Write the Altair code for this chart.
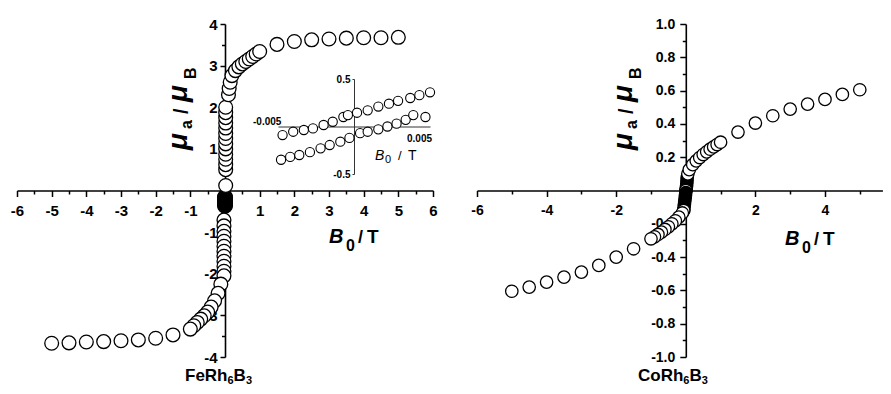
import altair as alt
import pandas as pd

FONT = "Liberation Sans"
W, H = 875, 378

# ---------------- FeRh6B3 (left panel) ----------------
fe_x = [0.02, 0.02, 0.02, 0.02, 0.02, 0.02, 0.02, 0.02, 0.02, 0.02, 0.02, 0.02, 0.02, 0.02,
        0.1, 0.12, 0.15, 0.2, 0.3, 0.4, 0.5, 0.6, 0.7, 0.8, 0.9, 1.0,
        1.5, 2.0, 2.5, 3.0, 3.5, 4.0, 4.5, 5.0,
        -0.03, -0.03, -0.03, -0.03, -0.03, -0.03, -0.03, -0.03, -0.03, -0.03, -0.03, -0.03,
        -0.12, -0.2, -0.3, -0.4, -0.5, -0.6, -0.7, -0.8, -0.9, -1.0,
        -1.5, -2.0, -2.5, -3.0, -3.5, -4.0, -4.5, -5.0]
fe_y = [0.12, 0.5, 0.62, 0.75, 0.87, 1.0, 1.12, 1.25, 1.37, 1.5, 1.62, 1.75, 1.87, 2.0,
        2.3, 2.45, 2.6, 2.76, 2.88, 2.97, 3.04, 3.10, 3.16, 3.22, 3.28, 3.34,
        3.51, 3.58, 3.62, 3.64, 3.66, 3.67, 3.67, 3.68,
        -0.71, -0.85, -0.98, -1.1, -1.22, -1.34, -1.46, -1.58, -1.7, -1.82, -1.94, -2.05,
        -2.25, -2.47, -2.65, -2.8, -2.92, -3.01, -3.09, -3.17, -3.25, -3.33,
        -3.47, -3.55, -3.59, -3.61, -3.63, -3.64, -3.66, -3.67]
# densely packed low-field points (render as a solid black block)
fe_dense_x = [0.0, 0.0, 0.0, 0.0, 0.0, 0.0, 0.0, 0.0, 0.0, 0.0, 0.0, 0.0]
fe_dense_y = [-0.15, -0.17, -0.19, -0.21, -0.23, -0.25, -0.27, -0.29, -0.31, -0.33, -0.35, -0.37]

# ---------------- CoRh6B3 (right panel) ----------------
co_x = [0.06, 0.1, 0.2, 0.3, 0.4, 0.5, 0.6, 0.7, 0.8, 0.9, 1.0,
        1.5, 2.0, 2.5, 3.0, 3.5, 4.0, 4.5, 5.0,
        -0.06, -0.1, -0.2, -0.3, -0.4, -0.5, -0.6, -0.7, -0.8, -0.9, -1.0,
        -1.5, -2.0, -2.5, -3.0, -3.5, -4.0, -4.5, -5.0]
co_y = [0.1, 0.125, 0.155, 0.178, 0.198, 0.216, 0.232, 0.248, 0.262, 0.276, 0.29,
        0.351, 0.405, 0.449, 0.489, 0.519, 0.547, 0.577, 0.605,
        -0.12, -0.135, -0.16, -0.182, -0.2, -0.218, -0.234, -0.25, -0.264, -0.278, -0.29,
        -0.35, -0.40, -0.45, -0.49, -0.52, -0.55, -0.58, -0.605]
co_dense_x = [0.04, 0.035, 0.03, 0.02, 0.01, 0.0, 0.0, -0.01, -0.02, -0.03, -0.04, -0.05, -0.06]
co_dense_y = [0.078, 0.06, 0.042, 0.024, 0.006, 0.0, -0.012, -0.03, -0.048, -0.066, -0.084, -0.102, -0.12]
co_dense_fill = ["black", "black", "black", "black", "black", "white", "black",
                 "black", "black", "black", "black", "black", "black"]

# ---------------- inset (FeRh6B3 low field loop) ----------------
in_up_x = [-0.0047, -0.0040, -0.0033, -0.0027, -0.0020, -0.0014, -0.0007, -0.0004, 0.0002,
           0.0009, 0.0016, 0.0023, 0.0029, 0.0037, 0.0043, 0.0050]
in_up_y = [-0.09, -0.055, -0.037, -0.02, 0.016, 0.05, 0.10, 0.12, 0.145,
           0.17, 0.21, 0.24, 0.27, 0.30, 0.33, 0.36]
in_lo_x = [-0.0048, -0.0042, -0.0036, -0.0029, -0.0022, -0.0016, -0.0009, -0.0003, 0.0004,
           0.0009, 0.0016, 0.0022, 0.0028, 0.0034, 0.0039, 0.0047]
in_lo_y = [-0.35, -0.32, -0.30, -0.27, -0.23, -0.195, -0.16, -0.12, -0.07,
           -0.055, -0.03, 0.0, 0.03, 0.07, 0.12, 0.10]

# tick values
fe_xmajor = [-6, -5, -4, -3, -2, -1, 1, 2, 3, 4, 5, 6]
fe_xminor = [-5.5, -4.5, -3.5, -2.5, -1.5, -0.5, 0.5, 1.5, 2.5, 3.5, 4.5, 5.5]
fe_ymajor = [-4, -3, -2, -1, 1, 2, 3, 4]
fe_yminor = [-3.5, -2.5, -1.5, -0.5, 0.5, 1.5, 2.5, 3.5]
co_xmajor = [-6, -4, -2, 2, 4]
co_xminor = [-5, -3, -1, 1, 3, 5]
co_ymajor = [-1.0, -0.8, -0.6, -0.4, -0.2, 0.2, 0.4, 0.6, 0.8, 1.0]
co_yminor = [-0.9, -0.7, -0.5, -0.3, -0.1, 0.1, 0.3, 0.5, 0.7, 0.9]
in_ymajor = [-0.5, 0.5]

# ---------------- build ----------------
fe_df = pd.DataFrame({"x": fe_x, "y": fe_y})
fe_dense_df = pd.DataFrame({"x": fe_dense_x, "y": fe_dense_y})
co_df = pd.DataFrame({"x": co_x, "y": co_y})
co_dense_df = pd.DataFrame({"x": co_dense_x, "y": co_dense_y, "f": co_dense_fill})
in_df = pd.DataFrame({"x": in_up_x + in_lo_x, "y": in_up_y + in_lo_y})

fe_xs = alt.Scale(domain=[-6, 6], range=[9, 425], nice=False, zero=False)
fe_ys = alt.Scale(domain=[-4, 4], range=[349, 16], nice=False, zero=False)
co_xs = alt.Scale(domain=[-6, 5.65], range=[469, 874.4], nice=False, zero=False)
co_ys = alt.Scale(domain=[-1, 1], range=[349, 16], nice=False, zero=False)
in_xs = alt.Scale(domain=[-0.005, 0.005], range=[270, 422], nice=False, zero=False)
in_ys = alt.Scale(domain=[-0.5, 0.5], range=[166, 71], nice=False, zero=False)


def ax(orient, offset, values, tick, pad, fs, dec=0, labels=True, ticks=True, domain=True):
    expr = "(datum.value < 0 ? '-' : '') + format(abs(datum.value), '.%df')" % dec
    return alt.Axis(orient=orient, offset=offset, values=values, tickSize=tick,
                    labelPadding=pad, labels=labels, ticks=ticks, domain=domain,
                    labelFontSize=fs, labelFont=FONT, labelFontWeight="bold",
                    labelColor="black", domainColor="black", tickColor="black",
                    domainWidth=1.6, tickWidth=1.5, grid=False, title=None,
                    labelFlush=False, labelOverlap=False, labelExpr=expr)


XOFF = -(H - 182.5)

fe_minor = alt.Chart(fe_df).mark_point(opacity=0).encode(
    x=alt.X("x:Q", scale=fe_xs, axis=ax("bottom", XOFF, fe_xminor, 3.5, 0, 1, labels=False, domain=False)),
    y=alt.Y("y:Q", scale=fe_ys, axis=ax("left", -217, fe_yminor, 3.5, 0, 1, labels=False, domain=False)),
)
fe_black = alt.Chart(fe_dense_df).mark_point(shape="circle", filled=True, fill="black",
                                             stroke="black", size=190, opacity=1).encode(
    x=alt.X("x:Q", scale=fe_xs, axis=None),
    y=alt.Y("y:Q", scale=fe_ys, axis=None),
)
fe_pts = alt.Chart(fe_df).mark_point(shape="circle", filled=True, fill="white", stroke="black",
                                     strokeWidth=1.3, size=190, opacity=1).encode(
    x=alt.X("x:Q", scale=fe_xs, axis=ax("bottom", XOFF, fe_xmajor, 6, 7, 15)),
    y=alt.Y("y:Q", scale=fe_ys, axis=ax("left", -217, fe_ymajor, 5, 3, 15)),
)

co_minor = alt.Chart(co_df).mark_point(opacity=0).encode(
    x=alt.X("x:Q", scale=co_xs, axis=ax("bottom", XOFF, co_xminor, 3.5, 0, 1, labels=False, domain=False)),
    y=alt.Y("y:Q", scale=co_ys, axis=ax("left", -677.8, co_yminor, 3.5, 0, 1, labels=False, domain=False)),
)
co_black = alt.Chart(co_dense_df).mark_point(shape="circle", filled=True, stroke="black",
                                             strokeWidth=1.3, size=154, opacity=1).encode(
    x=alt.X("x:Q", scale=co_xs, axis=None),
    y=alt.Y("y:Q", scale=co_ys, axis=None),
    fill=alt.Fill("f:N", scale=None),
)
co_pts = alt.Chart(co_df).mark_point(shape="circle", filled=True, fill="white", stroke="black",
                                     strokeWidth=1.3, size=154, opacity=1).encode(
    x=alt.X("x:Q", scale=co_xs, axis=ax("bottom", XOFF, co_xmajor, 6, 7, 14)),
    y=alt.Y("y:Q", scale=co_ys, axis=ax("left", -677.8, co_ymajor, 6, 5, 14, dec=1)),
)

in_pts = alt.Chart(in_df).mark_point(shape="circle", filled=True, fill="white", stroke="black",
                                     strokeWidth=1.1, size=85, opacity=1).encode(
    x=alt.X("x:Q", scale=in_xs, axis=alt.Axis(orient="bottom", offset=-(H - 118.5), labels=False,
                                              ticks=False, domainColor="#333", domainWidth=1,
                                              grid=False, title=None)),
    y=alt.Y("y:Q", scale=in_ys, axis=alt.Axis(orient="left", offset=-346, values=in_ymajor,
                                              tickSize=2, labelPadding=2, labelFontSize=10,
                                              labelFont=FONT, labelFontWeight="bold",
                                              labelColor="black", domainColor="#333",
                                              domainWidth=1, tickColor="#333", grid=False,
                                              title=None, labelFlush=False, labelOverlap=False,
                                              labelExpr="(datum.value < 0 ? '-' : '') + format(abs(datum.value), '.1f')")),
)


def txt(rows, **kw):
    df = pd.DataFrame(rows, columns=["t", "px", "py", "fs", "ang"])
    return alt.Chart(df).mark_text(align="left", baseline="alphabetic", font=FONT,
                                   color="black", **kw).encode(
        x=alt.X("px:Q", scale=None, axis=None),
        y=alt.Y("py:Q", scale=None, axis=None),
        text="t:N",
        size=alt.Size("fs:Q", scale=None),
        angle=alt.Angle("ang:Q", scale=None),
    )


R = 445  # horizontal shift of right-panel y title
RX = 456  # horizontal shift of right-panel x title
CB = 373  # caption baseline
bold_italic = txt([
    ["μ", 179, 142, 28, 270], ["μ", 179, 94, 28, 270],
    ["μ", 179 + R, 142, 28, 270], ["μ", 179 + R, 94, 28, 270],
    ["B", 321, 235, 20, 0], ["B", 321 + RX, 237, 20, 0],
], fontWeight="bold", fontStyle="italic")
bold = txt([
    ["a", 184, 121, 16, 270], ["/", 180, 106, 20, 270], ["B", 188, 71, 16, 270],
    ["a", 184 + R, 121, 16, 270], ["/", 180 + R, 106, 20, 270], ["B", 188 + R, 71, 16, 270],
    ["0", 338, 243, 16, 0], ["/", 350, 235, 18, 0], ["T", 359, 235, 19, 0],
    ["0", 338 + RX, 245, 16, 0], ["/", 350 + RX, 237, 18, 0], ["T", 359 + RX, 237, 19, 0],
    ["FeRh", 177, CB, 17, 0], ["6", 219.5, CB + 3, 11, 0], ["B", 225.6, CB, 17, 0], ["3", 238, CB + 3, 11, 0],
    ["CoRh", 630, CB, 17, 0], ["6", 675.3, CB + 3, 11, 0], ["B", 681.4, CB, 17, 0], ["3", 693.7, CB + 3, 11, 0],
    ["-0.005", 245, 117, 10, 0], ["0.005", 399, 134, 10, 0],
], fontWeight="bold")
inset_italic = txt([["B", 367, 152, 14, 0]], fontStyle="italic")
inset_plain = txt([["0", 377, 155, 11, 0], ["/", 390, 152, 13, 0], ["T", 400, 152, 14, 0]])

chart = alt.layer(
    fe_minor, fe_black, fe_pts,
    co_minor, co_black, co_pts,
    in_pts,
    bold_italic, bold, inset_italic, inset_plain,
).resolve_scale(x="independent", y="independent").properties(
    width=W, height=H, padding=0, autosize=alt.AutoSizeParams(type="none"),
).configure_view(stroke=None)

chart.save("out.html", embed_options={"renderer": "svg", "actions": False})
